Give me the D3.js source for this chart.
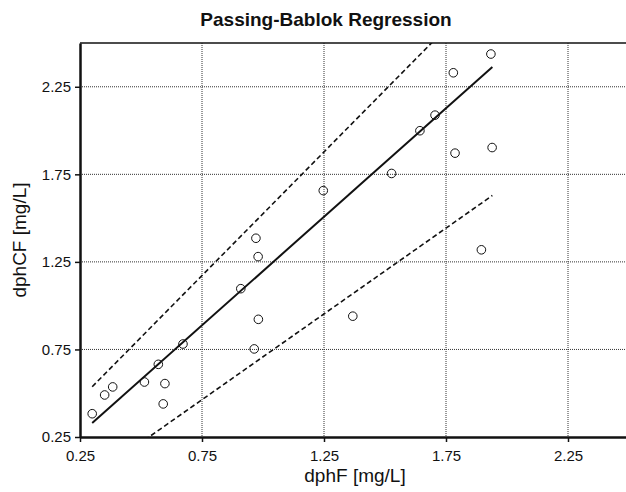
<!DOCTYPE html>
<html>
<head>
<meta charset="UTF-8">
<title>Passing-Bablok Regression</title>
<script src="https://cdn.jsdelivr.net/npm/d3@7"></script>
<style>
  body { margin: 0; background: #fff; }
  text { font-family: "Liberation Sans", Arial, sans-serif; fill: #111; }
</style>
</head>
<body>
<svg width="626" height="492"></svg>
<script>
// measured values
var dphF  = [0.300, 0.351, 0.384, 0.514, 0.571, 0.598, 0.591, 0.672, 0.909, 0.980, 0.981, 0.964,
             0.971, 1.247, 1.527, 1.643, 1.705, 1.780, 1.934, 1.787, 1.939, 1.895, 1.368];
var dphCF = [0.383, 0.490, 0.536, 0.564, 0.665, 0.555, 0.439, 0.781, 1.097, 1.280, 0.922, 0.753,
             1.385, 1.657, 1.755, 1.999, 2.088, 2.330, 2.437, 1.871, 1.903, 1.319, 0.940];

// regression line and confidence bounds (endpoints)
var fitLine = [[0.30, 0.330], [1.94, 2.363]];
var upperCI = [[0.30, 0.537], [1.94, 2.852]];
var lowerCI = [[0.30, 0.022], [1.94, 1.629]];

var ticks = [0.25, 0.75, 1.25, 1.75, 2.25];

var svg = d3.select("svg");
var plotLeft = 80, plotRight = 629, plotTop = 43, plotBottom = 437;

var x = d3.scaleLinear().domain([0.25, 2.5]).range([plotLeft, plotRight]);
var y = d3.scaleLinear().domain([0.25, 2.5]).range([plotBottom, plotTop]);

svg.append("clipPath").attr("id", "plot")
  .append("rect")
  .attr("x", plotLeft).attr("y", plotTop)
  .attr("width", plotRight - plotLeft).attr("height", plotBottom - plotTop);

// grid
var grid = svg.append("g").attr("stroke", "#333").attr("stroke-width", 1)
  .attr("stroke-dasharray", "1,1");
grid.selectAll(".gx").data(ticks.slice(1)).enter().append("line")
  .attr("x1", function(d) { return x(d); }).attr("x2", function(d) { return x(d); })
  .attr("y1", plotTop).attr("y2", plotBottom);
grid.selectAll(".gy").data(ticks.slice(1)).enter().append("line")
  .attr("y1", function(d) { return y(d); }).attr("y2", function(d) { return y(d); })
  .attr("x1", plotLeft).attr("x2", plotRight);

// top border
svg.append("line").attr("x1", plotLeft).attr("x2", plotRight).attr("y1", plotTop).attr("y2", plotTop)
  .attr("stroke", "#111").attr("stroke-width", 1.5);

// lines
var line = d3.line().x(function(d) { return x(d[0]); }).y(function(d) { return y(d[1]); });
var lines = svg.append("g").attr("clip-path", "url(#plot)").attr("fill", "none").attr("stroke", "#111");
lines.append("path").datum(fitLine).attr("d", line).attr("stroke-width", 2);
lines.append("path").datum(upperCI).attr("d", line).attr("stroke-width", 1.6).attr("stroke-dasharray", "5,3");
lines.append("path").datum(lowerCI).attr("d", line).attr("stroke-width", 1.6).attr("stroke-dasharray", "5,3");

// points
svg.append("g").selectAll("circle").data(dphF).enter().append("circle")
  .attr("cx", function(d) { return x(d); })
  .attr("cy", function(d, i) { return y(dphCF[i]); })
  .attr("r", 4.3)
  .attr("fill", "none")
  .attr("stroke", "#111")
  .attr("stroke-width", 1);

// axes
var xAxis = d3.axisBottom(x).tickValues(ticks).tickFormat(d3.format(".2f")).tickSize(5).tickSizeOuter(0);
var yAxis = d3.axisLeft(y).tickValues(ticks).tickFormat(d3.format(".2f")).tickSize(5).tickSizeOuter(0);

var gx = svg.append("g").attr("transform", "translate(0," + plotBottom + ")").call(xAxis);
var gy = svg.append("g").attr("transform", "translate(" + plotLeft + ",0)").call(yAxis);
[gx, gy].forEach(function(g) {
  g.attr("font-size", 15).attr("font-family", "Liberation Sans, Arial, sans-serif");
  g.select(".domain").attr("stroke", "#111").attr("stroke-width", 2.5);
  g.selectAll(".tick line").attr("stroke", "#111").attr("stroke-width", 1.5);
  g.selectAll(".tick text").attr("fill", "#111");
});
gx.selectAll(".tick text").attr("dy", "1.05em");
gy.selectAll(".tick text").attr("x", -9);

// title and labels
svg.append("text").attr("x", 326).attr("y", 26).attr("text-anchor", "middle")
  .attr("font-size", 19).attr("font-weight", "bold").text("Passing-Bablok Regression");
svg.append("text").attr("x", 355).attr("y", 482).attr("text-anchor", "middle")
  .attr("font-size", 19).text("dphF [mg/L]");
svg.append("text").attr("transform", "translate(26,240) rotate(-90)").attr("text-anchor", "middle")
  .attr("font-size", 19).text("dphCF [mg/L]");
</script>
</body>
</html>
